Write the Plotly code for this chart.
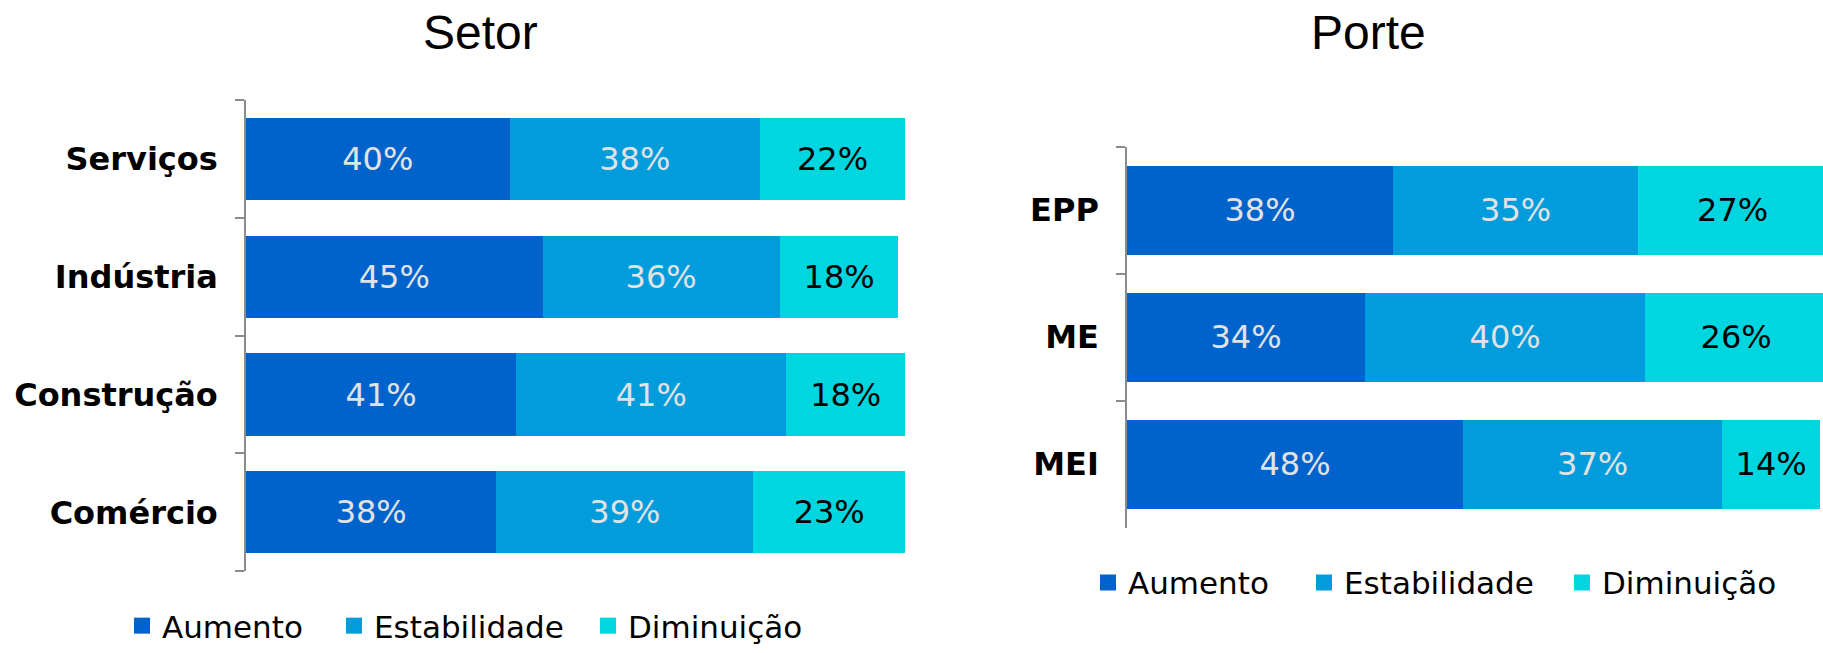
import plotly.graph_objects as go

W, H = 1823, 653

series_names = ["Aumento", "Estabilidade", "Diminuição"]
series_colors = ["#0063cc", "#009cdc", "#00d6e0"]
label_colors = ["#e2e2e2", "#e2e2e2", "#000000"]

setor_categories = ["Serviços", "Indústria", "Construção", "Comércio"]
setor_aumento = [40, 45, 41, 38]
setor_estabilidade = [38, 36, 41, 39]
setor_diminuicao = [22, 18, 18, 23]

porte_categories = ["EPP", "ME", "MEI"]
porte_aumento = [38, 34, 48]
porte_estabilidade = [35, 40, 37]
porte_diminuicao = [27, 26, 14]

fig = go.Figure()

setor_values = [setor_aumento, setor_estabilidade, setor_diminuicao]
porte_values = [porte_aumento, porte_estabilidade, porte_diminuicao]

for i, name in enumerate(series_names):
    fig.add_trace(go.Bar(
        y=setor_categories, x=setor_values[i], orientation="h", name=name,
        marker=dict(color=series_colors[i], line=dict(width=0)),
        texttemplate="%{x}%", textposition="inside", insidetextanchor="middle",
        textangle=0, constraintext="none",
        textfont=dict(family="DejaVu Sans", size=32, color=label_colors[i]),
        xaxis="x", yaxis="y", showlegend=False, hoverinfo="skip",
    ))
    fig.add_trace(go.Bar(
        y=porte_categories, x=porte_values[i], orientation="h", name=name,
        marker=dict(color=series_colors[i], line=dict(width=0)),
        texttemplate="%{x}%", textposition="inside", insidetextanchor="middle",
        textangle=0, constraintext="none",
        textfont=dict(family="DejaVu Sans", size=32, color=label_colors[i]),
        xaxis="x2", yaxis="y2", showlegend=False, hoverinfo="skip",
    ))

# legend entries: one legend per item so each can be placed like the original
left_legend_x = [122, 334, 588]
right_legend_x = [1088, 1304, 1562]
legend_layout = {}
for i, name in enumerate(series_names):
    for panel, xs, ycen in [(0, left_legend_x, 649), (1, right_legend_x, 604)]:
        idx = panel * 3 + i + 1
        key = "legend" if idx == 1 else f"legend{idx}"
        fig.add_trace(go.Scatter(
            x=[None], y=[None], mode="markers", name=name,
            marker=dict(symbol="square", size=16, color=series_colors[i]),
            xaxis="x", yaxis="y", legend=key, showlegend=True,
        ))
        legend_layout[key] = dict(
            orientation="h", x=xs[i] / W, xanchor="left",
            y=1 - ycen / H, yanchor="middle",
            font=dict(family="DejaVu Sans", size=31, color="#000000"),
            bgcolor="rgba(0,0,0,0)", itemsizing="trace", traceorder="normal",
        )

axis_common_y = dict(
    type="category", showline=True, linecolor="#8c8c8c", linewidth=1.5,
    ticks="outside", tickson="boundaries", ticklen=9, tickcolor="#8c8c8c",
    tickwidth=1.5, showgrid=False, zeroline=False,
    tickfont=dict(family="DejaVu Sans", size=32, color="#000000", weight="bold"),
    ticklabelstandoff=20,
)
axis_common_x = dict(visible=False, showgrid=False, zeroline=False, fixedrange=True)

fig.update_layout(
    width=W, height=H,
    margin=dict(l=0, r=0, t=0, b=0),
    paper_bgcolor="white", plot_bgcolor="white",
    barmode="stack",
    font=dict(family="DejaVu Sans"),
    xaxis=dict(domain=[246 / W, 905 / W], range=[0, 100], **axis_common_x),
    yaxis=dict(domain=[1 - 592 / H, 1 - 104 / H],
               categoryorder="array",
               categoryarray=setor_categories[::-1],
               **axis_common_y),
    xaxis2=dict(domain=[1127 / W, 1.0], range=[0, 99.4], anchor="y2", **axis_common_x),
    yaxis2=dict(domain=[1 - 547 / H, 1 - 152 / H], anchor="x2",
                categoryorder="array",
                categoryarray=porte_categories[::-1],
                **axis_common_y),
    bargap=0.30,
    annotations=[
        dict(text="Setor", x=480 / W, y=1 - 34 / H, xref="paper", yref="paper",
             xanchor="center", yanchor="middle", showarrow=False,
             font=dict(family="Liberation Sans", size=48, color="#000000")),
        dict(text="Porte", x=1368 / W, y=1 - 34 / H, xref="paper", yref="paper",
             xanchor="center", yanchor="middle", showarrow=False,
             font=dict(family="Liberation Sans", size=48, color="#000000")),
    ],
    **legend_layout,
)

post = (
    "document.documentElement.style.margin='0';"
    "document.documentElement.style.padding='0';"
    "document.documentElement.style.height='653px';"
    "document.documentElement.style.overflow='hidden';"
    "document.body.style.margin='0';"
    "document.body.style.padding='0';"
    "document.body.style.height='653px';"
    "document.body.style.overflow='hidden';"
)
fig.write_html("out.html", config={"displayModeBar": False}, post_script=post)
